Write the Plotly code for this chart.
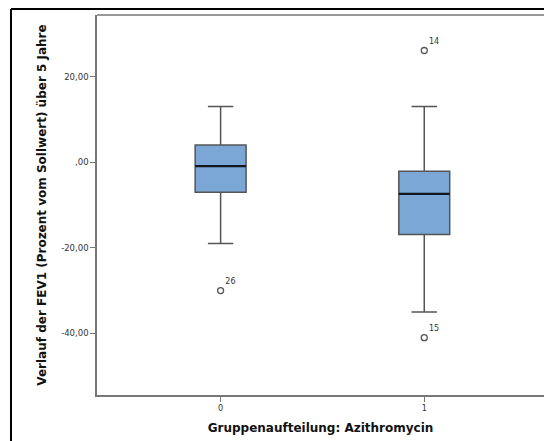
import plotly.graph_objects as go

# ---- data ----
categories = ["0", "1"]
q1 = [-7.0, -16.9]
median = [-0.9, -7.4]
q3 = [4.0, -2.1]
lower_whisker = [-19.0, -35.0]
upper_whisker = [13.0, 13.0]
outlier_group = ["0", "1", "1"]
outlier_values = [-30.0, 26.1, -41.0]
outlier_ids = ["26", "14", "15"]
y_tick_vals = [-40, -20, 0, 20]
y_tick_text = ["-40,00", "-20,00", ",00", "20,00"]

W, H = 544, 441
ML, MT, MB, MR = 97, 15, 46, 0
box_w = 0.25

xpos = list(range(len(categories)))
pos_of = {c: i for i, c in enumerate(categories)}

fig = go.Figure()
fig.add_trace(go.Box(
    x=xpos, q1=q1, median=median, q3=q3,
    lowerfence=lower_whisker, upperfence=upper_whisker,
    width=box_w, whiskerwidth=0.5,
    fillcolor="#7BA7D6", line=dict(color="#555555", width=1.5),
    boxpoints=False, showlegend=False, hoverinfo="skip",
))
# median lines (dark)
for i, m in zip(xpos, median):
    fig.add_trace(go.Scatter(
        x=[i - box_w / 2, i + box_w / 2], y=[m, m], mode="lines",
        line=dict(color="#15171f", width=2.2), showlegend=False, hoverinfo="skip",
    ))
# outliers
fig.add_trace(go.Scatter(
    x=[pos_of[g] for g in outlier_group], y=outlier_values,
    mode="markers+text", text=outlier_ids, textposition="top right",
    textfont=dict(family="DejaVu Sans", size=8, color="#333"),
    marker=dict(symbol="circle-open", size=6, color="#555", line=dict(width=1.3)),
    showlegend=False, hoverinfo="skip",
))

plot_w = W - ML - MR
plot_h = H - MT - MB
# outer black frame (top and left visible)
fx = (11 - ML) / plot_w
fy = 1 + (MT - 9) / plot_h
fig.add_shape(type="line", xref="paper", yref="paper", x0=fx, x1=1.2, y0=fy, y1=fy,
              line=dict(color="black", width=2))
fig.add_shape(type="line", xref="paper", yref="paper", x0=fx, x1=fx, y0=fy, y1=-0.3,
              line=dict(color="black", width=2))
# plot-area top line
fig.add_shape(type="line", xref="paper", yref="paper", x0=0, x1=1.2, y0=1, y1=1,
              line=dict(color="#777", width=1.5))

title_font = dict(family="DejaVu Sans", size=12, color="#111", weight="bold")

fig.update_layout(
    width=W, height=H,
    margin=dict(l=ML, r=MR, t=MT, b=MB, pad=0, autoexpand=False),
    paper_bgcolor="white", plot_bgcolor="white",
    font=dict(family="DejaVu Sans", color="#333"),
    xaxis=dict(
        range=[-0.607, 1.588], tickvals=xpos, ticktext=categories,
        showgrid=False, zeroline=False, showline=True, linecolor="#777", linewidth=1.5,
        ticks="outside", ticklen=5, tickcolor="#777", tickfont=dict(size=8, color="#333"),
        title=dict(text="Gruppenaufteilung: Azithromycin", font=title_font, standoff=11),
    ),
    yaxis=dict(
        range=[-54.4, 34.4], tickvals=y_tick_vals, ticktext=y_tick_text,
        showgrid=False, zeroline=False, showline=True, linecolor="#777", linewidth=1.5,
        ticks="outside", ticklen=5, tickcolor="#777", tickfont=dict(size=8.5, color="#333"),
        title=dict(text="Verlauf der FEV1 (Prozent vom Sollwert) über 5 Jahre",
                   font=title_font, standoff=12),
    ),
)

fig.write_html("out.html", config={"displayModeBar": False})
with open("out.html", encoding="utf-8") as f:
    html = f.read()
html = html.replace("<head>", "<head><style>html,body{margin:0;padding:0;overflow:hidden;}</style>", 1)
with open("out.html", "w", encoding="utf-8") as f:
    f.write(html)
